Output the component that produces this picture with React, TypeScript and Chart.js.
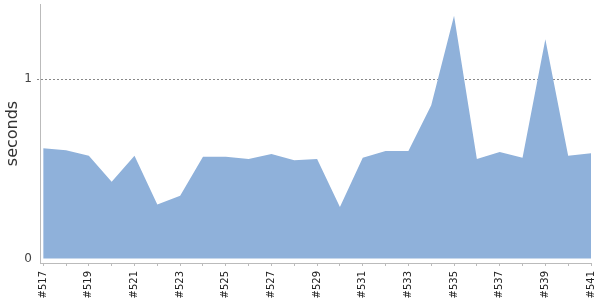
import React, { useEffect, useRef } from "react";
import { Chart, registerables } from "chart.js";

Chart.register(...registerables);

const builds: number[] = [517, 518, 519, 520, 521, 522, 523, 524, 525, 526, 527, 528, 529, 530, 531, 532, 533, 534, 535, 536, 537, 538, 539, 540, 541];
const seconds: number[] = [0.616, 0.605, 0.573, 0.428, 0.573, 0.302, 0.35, 0.568, 0.568, 0.555, 0.583, 0.549, 0.555, 0.288, 0.562, 0.6, 0.6, 0.856, 1.354, 0.555, 0.594, 0.562, 1.223, 0.573, 0.588];
const yTicks: number[] = [0, 1];
const yTitle = "seconds";

export default function App() {
  const ref = useRef<HTMLCanvasElement | null>(null);
  useEffect(() => {
    document.body.style.margin = "0";
    const canvas = ref.current;
    if (!canvas) return;
    const points = builds.map((b, i) => ({ x: i, y: seconds[i] }));
    const chart = new Chart(canvas, {
      type: "line",
      data: {
        datasets: [
          {
            data: points,
            fill: "origin",
            backgroundColor: "#8fb1da",
            borderWidth: 0,
            borderColor: "#8fb1da",
            pointRadius: 0,
            tension: 0,
          },
        ],
      },
      options: {
        animation: false,
        responsive: false,
        maintainAspectRatio: false,
        layout: { padding: { top: 4, right: 9, left: 0, bottom: 0 } },
        plugins: { legend: { display: false }, tooltip: { enabled: false } },
        scales: {
          x: {
            type: "linear",
            min: -0.14,
            max: builds.length - 1,
            afterBuildTicks: (scale: any) => {
              scale.ticks = builds.map((_, i) => ({ value: i }));
            },
            afterFit: (scale: any) => {
              scale.height = 37;
              scale.paddingLeft = 0;
              scale.paddingRight = 0;
            },
            border: { color: "#bbbbbb", width: 1 },
            grid: { drawOnChartArea: false, drawTicks: true, tickLength: 3, color: "#bbbbbb" },
            ticks: {
              autoSkip: false,
              minRotation: 90,
              maxRotation: 90,
              padding: 5,
              color: "#222222",
              font: { family: "DejaVu Sans", size: 10 },
              callback: (v: any) => {
                const i = Math.round(Number(v));
                return i % 2 === 0 ? "#" + builds[i] : "";
              },
            },
          },
          y: {
            type: "linear",
            min: -0.0245,
            max: 1.42,
            afterBuildTicks: (scale: any) => {
              scale.ticks = yTicks.map((v) => ({ value: v }));
            },
            afterFit: (scale: any) => {
              scale.width = 40;
              scale.paddingTop = 0;
              scale.paddingBottom = 0;
            },
            border: { color: "#bbbbbb", width: 1, dash: [2, 2] },
            grid: {
              drawTicks: true,
              tickLength: 3,
              color: (ctx: any) => (ctx.tick && ctx.tick.value === 1 ? "#888888" : "rgba(0,0,0,0)"),
              tickBorderDash: [2, 2],
            },
            ticks: {
              padding: 5,
              color: "#444444",
              font: { family: "DejaVu Sans", size: 12 },
              callback: (v: any) => String(v),
            },
            title: {
              display: true,
              text: yTitle,
              color: "#333333",
              font: { family: "DejaVu Sans", size: 16 },
              padding: { top: 3, bottom: 0 },
            },
          },
        },
      },
    });
    return () => chart.destroy();
  }, []);
  return <canvas ref={ref} width={600} height={300} style={{ display: "block" }} />;
}
